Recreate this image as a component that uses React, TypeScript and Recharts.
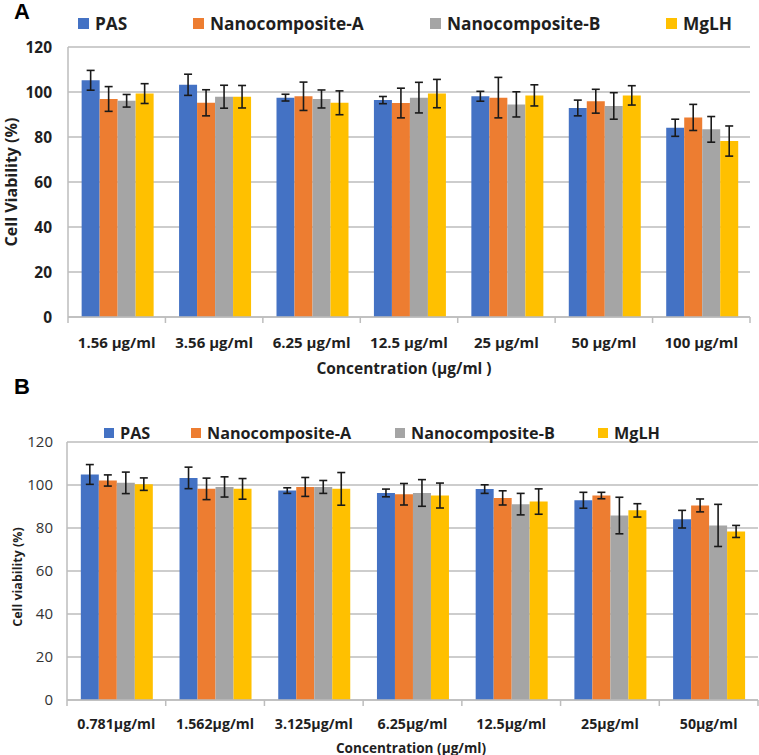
import React from 'react';
import { Bar, BarChart, CartesianGrid, ErrorBar, XAxis, YAxis } from 'recharts';

const FONT = '"Open Sans", Lato, sans-serif';

const SERIES = [
  { key: 'pas', name: 'PAS', color: '#4472C4' },
  { key: 'nanoA', name: 'Nanocomposite-A', color: '#ED7D31' },
  { key: 'nanoB', name: 'Nanocomposite-B', color: '#A5A5A5' },
  { key: 'mglh', name: 'MgLH', color: '#FFC000' },
];

const Y_TICKS = [0, 20, 40, 60, 80, 100, 120];

// panel A
const CATEGORIES_A = ['1.56 μg/ml', '3.56 μg/ml', '6.25 μg/ml', '12.5 μg/ml', '25 μg/ml', '50 μg/ml', '100 μg/ml'];
const PAS_A = [105.2, 103.2, 97.5, 96.4, 98.1, 92.9, 84.1];
const PAS_A_ERR = [4.4, 4.7, 1.5, 1.6, 2.2, 3.5, 3.8];
const NANO_A_A = [96.9, 95.2, 98.1, 95.1, 97.5, 95.9, 88.7];
const NANO_A_A_ERR = [5.5, 5.8, 6.3, 6.6, 9.0, 5.3, 5.8];
const NANO_B_A = [96.1, 97.9, 96.9, 97.5, 94.5, 93.8, 83.4];
const NANO_B_A_ERR = [2.8, 5.1, 4.0, 6.8, 5.6, 5.9, 5.7];
const MGLH_A = [99.3, 97.9, 95.2, 99.3, 98.5, 98.5, 78.2];
const MGLH_A_ERR = [4.4, 5.0, 5.3, 6.3, 4.7, 4.3, 6.7];

// panel B
const CATEGORIES_B = ['0.781μg/ml', '1.562μg/ml', '3.125μg/ml', '6.25μg/ml', '12.5μg/ml', '25μg/ml', '50μg/ml'];
const PAS_B = [104.9, 103.3, 97.4, 96.3, 98.1, 92.9, 84.1];
const PAS_B_ERR = [4.6, 5.0, 1.3, 1.8, 2.0, 3.7, 4.1];
const NANO_A_B = [102.1, 98.2, 99.1, 95.7, 94.0, 95.1, 90.5];
const NANO_A_B_ERR = [2.6, 5.0, 4.4, 5.0, 3.3, 1.5, 3.0];
const NANO_B_B = [101.0, 99.1, 99.1, 96.3, 91.1, 85.8, 81.2];
const NANO_B_B_ERR = [5.0, 4.7, 3.0, 6.2, 5.0, 8.5, 9.8];
const MGLH_B = [100.4, 98.2, 98.2, 95.1, 92.3, 88.2, 78.4];
const MGLH_B_ERR = [2.9, 4.8, 7.6, 5.8, 5.9, 3.1, 2.8];

function buildRows(
  categories: string[],
  values: number[][],
  errors: number[][],
) {
  return categories.map((name, i) => {
    const row: Record<string, string | number> = { name };
    SERIES.forEach((s, j) => {
      row[s.key] = values[j][i];
      row[s.key + 'Err'] = errors[j][i];
    });
    return row;
  });
}

const dataA = buildRows(
  CATEGORIES_A,
  [PAS_A, NANO_A_A, NANO_B_A, MGLH_A],
  [PAS_A_ERR, NANO_A_A_ERR, NANO_B_A_ERR, MGLH_A_ERR],
);
const dataB = buildRows(
  CATEGORIES_B,
  [PAS_B, NANO_A_B, NANO_B_B, MGLH_B],
  [PAS_B_ERR, NANO_A_B_ERR, NANO_B_B_ERR, MGLH_B_ERR],
);

const AXIS_GRAY = '#bdbdbd';
const W = 759;
const H = 375;

function makeTick(band: number, count: number, fontSize: number, labelOffset: number) {
  return (props: any) => {
    const { x, y, payload, index } = props;
    return (
      <g>
        <line x1={x - band / 2} x2={x - band / 2} y1={y} y2={y + 6} stroke={AXIS_GRAY} strokeWidth={1.5} />
        {index === count - 1 && (
          <line x1={x + band / 2} x2={x + band / 2} y1={y} y2={y + 6} stroke={AXIS_GRAY} strokeWidth={1.5} />
        )}
        <text
          x={x}
          y={y + labelOffset}
          textAnchor="middle"
          dominantBaseline="central"
          fontFamily={FONT}
          fontWeight={700}
          fontSize={fontSize}
          fill="#1f1f1f"
        >
          {payload.value}
        </text>
      </g>
    );
  };
}

function Panel({
  data,
  margin,
  yAxisWidth,
  xTickFont,
  xLabelOffset,
  yTickStyle,
  yTickMargin,
}: {
  data: Record<string, string | number>[];
  margin: { top: number; right: number; bottom: number; left: number };
  yAxisWidth: number;
  xTickFont: number;
  xLabelOffset: number;
  yTickStyle: Record<string, string | number>;
  yTickMargin: number;
}) {
  const plotWidth = W - margin.left - margin.right - yAxisWidth;
  const band = plotWidth / data.length;
  return (
    <BarChart width={W} height={H} data={data} margin={margin} barGap={0} barCategoryGap="14%">
      <CartesianGrid vertical={false} stroke={AXIS_GRAY} strokeWidth={1.5} />
      <XAxis
        dataKey="name"
        height={30}
        interval={0}
        tickLine={false}
        tickSize={0}
        tickMargin={0}
        axisLine={{ stroke: AXIS_GRAY, strokeWidth: 1.5 }}
        tick={makeTick(band, data.length, xTickFont, xLabelOffset)}
      />
      <YAxis
        width={yAxisWidth}
        domain={[0, 120]}
        ticks={Y_TICKS}
        interval={0}
        tickLine={false}
        tickSize={0}
        tickMargin={yTickMargin}
        axisLine={{ stroke: AXIS_GRAY, strokeWidth: 1.5 }}
        tick={yTickStyle}
      />
      {SERIES.map((s) => (
        <Bar key={s.key} dataKey={s.key} name={s.name} fill={s.color} isAnimationActive={false}>
          <ErrorBar dataKey={s.key + 'Err'} width={4} stroke="#1a1a1a" strokeWidth={1.6} />
        </Bar>
      ))}
    </BarChart>
  );
}

function LegendRow({
  top,
  squares,
  fontSize,
  size,
}: {
  top: number;
  squares: number[];
  fontSize: number;
  size: number;
}) {
  return (
    <>
      {SERIES.map((s, i) => (
        <div
          key={s.key}
          style={{
            position: 'absolute',
            left: squares[i],
            top: top - 12,
            height: 24,
            display: 'flex',
            alignItems: 'center',
            fontFamily: FONT,
            fontWeight: 700,
            fontSize,
            color: '#1f1f1f',
            whiteSpace: 'nowrap',
          }}
        >
          <span style={{ width: size, height: size, background: s.color, marginRight: 6, display: 'inline-block' }} />
          {s.name}
        </div>
      ))}
    </>
  );
}

export default function App() {
  return (
    <div style={{ position: 'absolute', left: 0, top: 0, width: W, height: 755, background: '#fff', overflow: 'hidden' }}>
      <div style={{ position: 'absolute', left: 0, top: 0 }}>
        <Panel
          data={dataA}
          margin={{ top: 47, right: 9, bottom: 28, left: 28 }}
          yAxisWidth={40}
          xTickFont={15}
          xLabelOffset={25}
          yTickStyle={{ fontSize: 15.5, fontWeight: 700, fill: '#1f1f1f', fontFamily: FONT }}
          yTickMargin={16}
        />
      </div>
      <div style={{ position: 'absolute', left: 0, top: 380 }}>
        <Panel
          data={dataB}
          margin={{ top: 62, right: 1, bottom: 25, left: 27 }}
          yAxisWidth={40}
          xTickFont={14.2}
          xLabelOffset={23}
          yTickStyle={{ fontSize: 15, fontWeight: 400, fill: '#333', fontFamily: FONT }}
          yTickMargin={14}
        />
      </div>
      <LegendRow top={23} squares={[78, 193, 430, 666]} fontSize={17.3} size={11} />
      <LegendRow top={433} squares={[104, 191, 395, 598]} fontSize={16.2} size={10} />
      <svg width={W} height={755} style={{ position: 'absolute', left: 0, top: 0, pointerEvents: 'none' }}>
        <text x={14} y={19} fontFamily="'Liberation Sans', Arial, sans-serif" fontWeight={700} fontSize={22} fill="#000">
          A
        </text>
        <text x={14} y={394} fontFamily="'Liberation Sans', Arial, sans-serif" fontWeight={700} fontSize={22} fill="#000">
          B
        </text>
        <text
          transform="translate(11 182) rotate(-90)"
          textAnchor="middle"
          dominantBaseline="central"
          fontFamily={FONT}
          fontWeight={700}
          fontSize={16}
          fill="#1f1f1f"
        >
          Cell Viability (%)
        </text>
        <text x={404} y={368} textAnchor="middle" dominantBaseline="central" fontFamily={FONT} fontWeight={700} fontSize={15.5} fill="#1f1f1f">
          Concentration (μg/ml )
        </text>
        <text
          transform="translate(17 577) rotate(-90)"
          textAnchor="middle"
          dominantBaseline="central"
          fontFamily={FONT}
          fontWeight={700}
          fontSize={12.5}
          fill="#1f1f1f"
        >
          Cell viability (%)
        </text>
        <text x={411} y={747} textAnchor="middle" dominantBaseline="central" fontFamily={FONT} fontWeight={700} fontSize={13.6} fill="#1f1f1f">
          Concentration (μg/ml)
        </text>
      </svg>
    </div>
  );
}
